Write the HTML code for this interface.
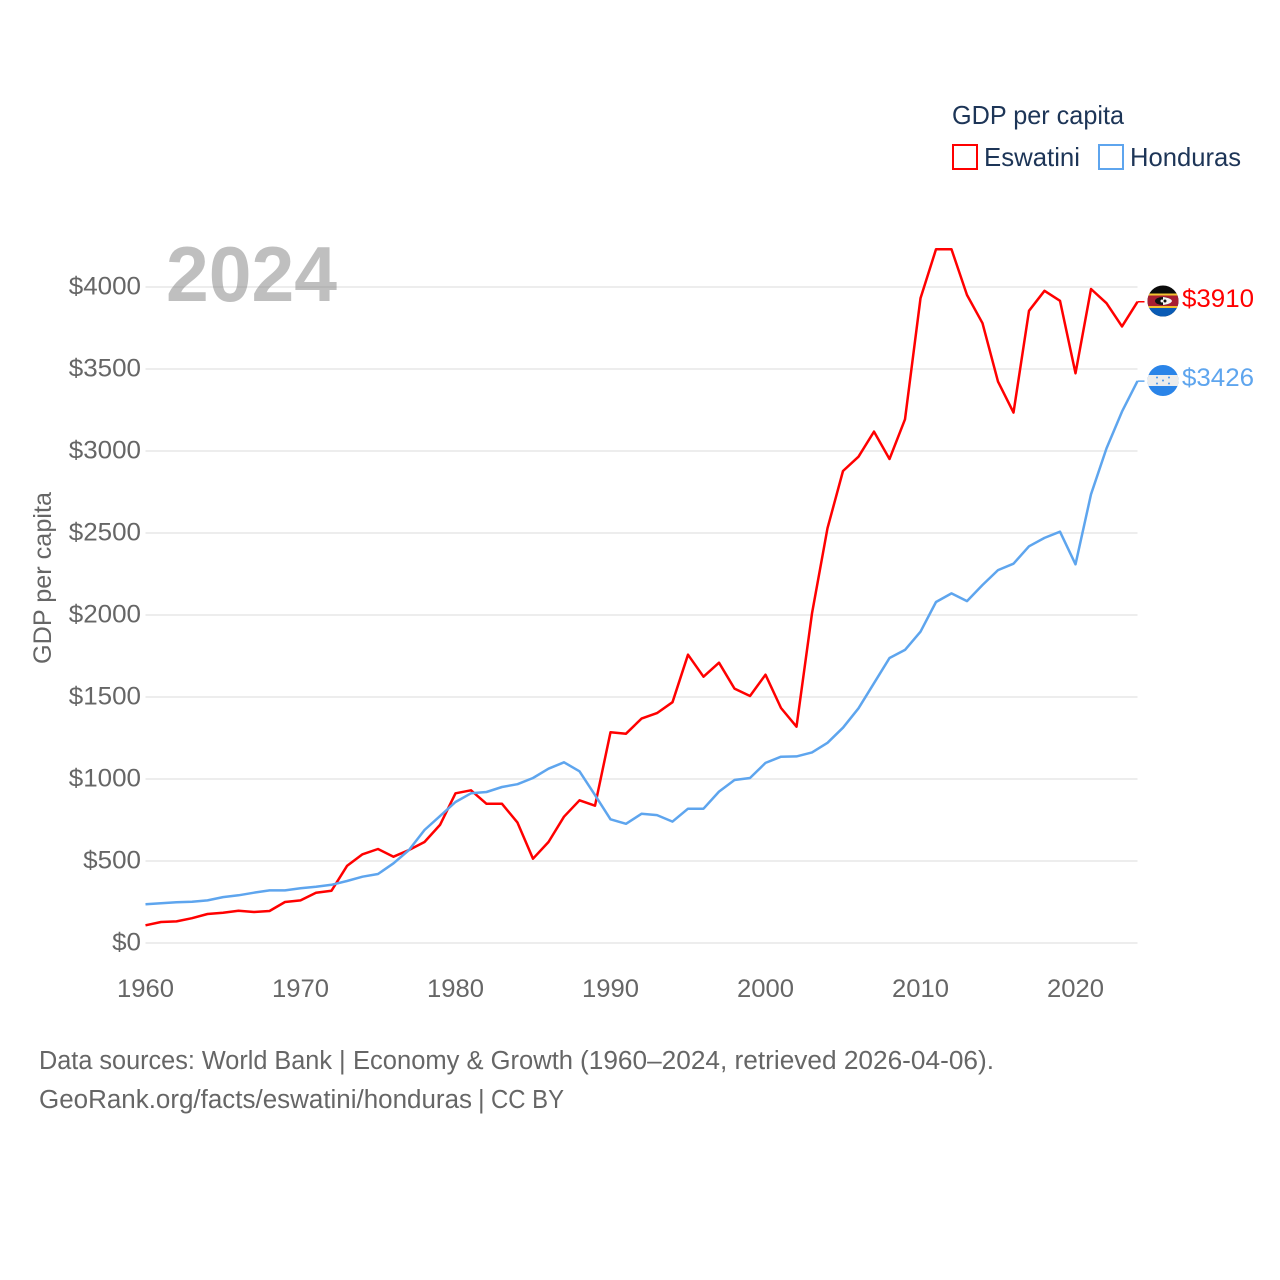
<!DOCTYPE html>
<html lang="en">
<head>
<meta charset="utf-8">
<title>GDP per capita: Eswatini and Honduras</title>
<style>
html,body{margin:0;padding:0;background:#fff}
svg{display:block}
text{font-family:"Liberation Sans",sans-serif}
</style>
</head>
<body>
<svg id="chart" width="1280" height="1280" viewBox="0 0 1280 1280" xmlns="http://www.w3.org/2000/svg">
  <defs>
    <clipPath id="flag-clip-sz"><circle cx="1163" cy="301" r="15.5"/></clipPath>
    <clipPath id="flag-clip-hn"><circle cx="1163" cy="380.5" r="15.5"/></clipPath>
  </defs>
  <g id="grid"></g>
  <g id="y-ticks"></g>
  <g id="x-ticks"></g>
  <text x="166" y="301" font-size="78" font-weight="700" fill="rgba(128,128,128,0.5)" textLength="171" lengthAdjust="spacingAndGlyphs">2024</text>
  <text transform="translate(51,664) rotate(-90)" font-size="25" fill="#666" textLength="172" lengthAdjust="spacingAndGlyphs">GDP per capita</text>
  <g id="series"></g>

  <g>
    <text x="952" y="124" font-size="26" fill="#1d3557" textLength="172" lengthAdjust="spacingAndGlyphs">GDP per capita</text>
    <rect x="953" y="145" width="24" height="24" fill="none" stroke="#ff0000" stroke-width="2"/>
    <text x="984" y="166" font-size="26" fill="#1d3557" textLength="96" lengthAdjust="spacingAndGlyphs">Eswatini</text>
    <rect x="1099" y="145" width="24" height="24" fill="none" stroke="#5ea5ee" stroke-width="2"/>
    <text x="1130" y="166" font-size="26" fill="#1d3557" textLength="111" lengthAdjust="spacingAndGlyphs">Honduras</text>
  </g>

  <g clip-path="url(#flag-clip-sz)">
    <rect x="1147" y="285" width="32" height="33" fill="#0b0b0b"/>
    <rect x="1147" y="293.5" width="32" height="2" fill="#f2c230"/>
    <rect x="1147" y="295.5" width="32" height="10.5" fill="#a81e32"/>
    <rect x="1147" y="306" width="32" height="2" fill="#f2c230"/>
    <rect x="1147" y="308" width="32" height="10" fill="#0a5bb5"/>
    <ellipse cx="1163" cy="301" rx="8" ry="4" fill="#111"/>
    <path d="M1163 297 Q1171 298 1172 301 Q1171 304 1163 305 Z" fill="#f4f4f4"/>
    <circle cx="1162" cy="301" r="1.5" fill="#f4f4f4"/>
    <circle cx="1165" cy="301" r="1.5" fill="#111"/>
  </g>
  <text x="1182" y="307" font-size="25" fill="#ff0000" textLength="72" lengthAdjust="spacingAndGlyphs">$3910</text>

  <g clip-path="url(#flag-clip-hn)">
    <rect x="1147" y="365" width="32" height="32" fill="#2a84e8"/>
    <rect x="1147" y="375" width="32" height="11" fill="#ececec"/>
    <g fill="#4a97ea">
      <circle cx="1157" cy="377.5" r="1"/>
      <circle cx="1169" cy="377.5" r="1"/>
      <circle cx="1163" cy="380.5" r="1"/>
      <circle cx="1157" cy="383.5" r="1"/>
      <circle cx="1169" cy="383.5" r="1"/>
    </g>
  </g>
  <text x="1182" y="386" font-size="25" fill="#5ea5ee" textLength="72" lengthAdjust="spacingAndGlyphs">$3426</text>

  <g font-size="25.5" fill="#666">
    <text x="39" y="1069" textLength="293" lengthAdjust="spacingAndGlyphs">Data sources: World Bank</text>
    <text x="339" y="1069">|</text>
    <text x="353" y="1069" textLength="220" lengthAdjust="spacingAndGlyphs">Economy &amp; Growth</text>
    <text x="580" y="1069" textLength="414" lengthAdjust="spacingAndGlyphs">(1960–2024, retrieved 2026-04-06).</text>
  </g>
  <g font-size="25.5" fill="#666">
    <text x="39" y="1108" textLength="433" lengthAdjust="spacingAndGlyphs">GeoRank.org/facts/eswatini/honduras</text>
    <text x="478" y="1108">|</text>
    <text x="491" y="1108" textLength="73" lengthAdjust="spacingAndGlyphs">CC BY</text>
  </g>
</svg>
<script>
const startYear = 1960;
const xTickYears = [1960, 1970, 1980, 1990, 2000, 2010, 2020];
const yTickValues = [0, 500, 1000, 1500, 2000, 2500, 3000, 3500, 4000];
const eswatiniValues = [108,128,132,151,177,185,197,189,195,250,260,307,319,470,541,573,526,567,616,720,913,931,849,849,734,514,616,770,870,837,1285,1276,1368,1402,1468,1758,1624,1709,1551,1506,1636,1433,1319,2010,2529,2878,2965,3118,2951,3193,3931,4230,4230,3951,3779,3423,3234,3855,3977,3916,3474,3988,3901,3760,3910];
const hondurasValues = [236,242,248,252,260,280,291,307,321,321,334,343,355,378,404,421,486,567,689,774,860,913,921,951,968,1006,1063,1102,1047,902,754,727,788,780,740,819,819,923,994,1006,1098,1136,1138,1162,1221,1313,1431,1584,1738,1787,1898,2079,2132,2085,2183,2274,2313,2419,2470,2508,2309,2736,3016,3240,3426];

const SVG_NS = 'http://www.w3.org/2000/svg';
function xScale(year) { return 145.5 + (year - 1960) * 15.5; }
function yScale(value) { return 943 - value * 0.164; }

const gridGroup = document.getElementById('grid');
const yGroup = document.getElementById('y-ticks');
const xGroup = document.getElementById('x-ticks');
const seriesGroup = document.getElementById('series');

yTickValues.forEach(function (v) {
  const line = document.createElementNS(SVG_NS, 'line');
  
  
  line.setAttribute('x1', 145.5);
  line.setAttribute('x2', 1137.5);
  line.setAttribute('y1', yScale(v));
  line.setAttribute('y2', yScale(v));
  line.setAttribute('stroke', '#ededed');
  line.setAttribute('stroke-width', 2);
  gridGroup.appendChild(line);

  const label = document.createElementNS(SVG_NS, 'text');
  
  
  const s = '$' + v;
  label.textContent = s;
  label.setAttribute('x', 141 - s.length * 14.45);
  label.setAttribute('y', yScale(v) + 7.5);
  label.setAttribute('font-size', 25);
  label.setAttribute('fill', '#666');
  label.setAttribute('textLength', s.length * 14.45);
  label.setAttribute('lengthAdjust', 'spacingAndGlyphs');
  yGroup.appendChild(label);
});

xTickYears.forEach(function (y) {
  const label = document.createElementNS(SVG_NS, 'text');
  
  
  label.textContent = String(y);
  label.setAttribute('x', xScale(y) - 28.5);
  label.setAttribute('y', 997);
  label.setAttribute('font-size', 25);
  label.setAttribute('fill', '#666');
  label.setAttribute('textLength', 57);
  label.setAttribute('lengthAdjust', 'spacingAndGlyphs');
  xGroup.appendChild(label);
});

function drawSeries(values, color, name) {
  const pts = values.map(function (v, i) {
    return xScale(startYear + i).toFixed(1) + ',' + yScale(v).toFixed(1);
  });
  const lastX = xScale(startYear + values.length - 1);
  const lastY = yScale(values[values.length - 1]);
  const path = document.createElementNS(SVG_NS, 'polyline');
  
  
  path.setAttribute('points', pts.join(' '));
  path.setAttribute('fill', 'none');
  path.setAttribute('stroke', color);
  path.setAttribute('stroke-width', 2.5);
  path.setAttribute('stroke-linejoin', 'round');
  seriesGroup.appendChild(path);

  const leader = document.createElementNS(SVG_NS, 'line');
  
  
  leader.setAttribute('x1', lastX);
  leader.setAttribute('x2', lastX + 7);
  leader.setAttribute('y1', lastY);
  leader.setAttribute('y2', lastY);
  leader.setAttribute('stroke', color);
  leader.setAttribute('stroke-width', 1.5);
  seriesGroup.appendChild(leader);
}
drawSeries(eswatiniValues, '#ff0000', 'series-eswatini');
drawSeries(hondurasValues, '#5ea5ee', 'series-honduras');
</script>
</body>
</html>
